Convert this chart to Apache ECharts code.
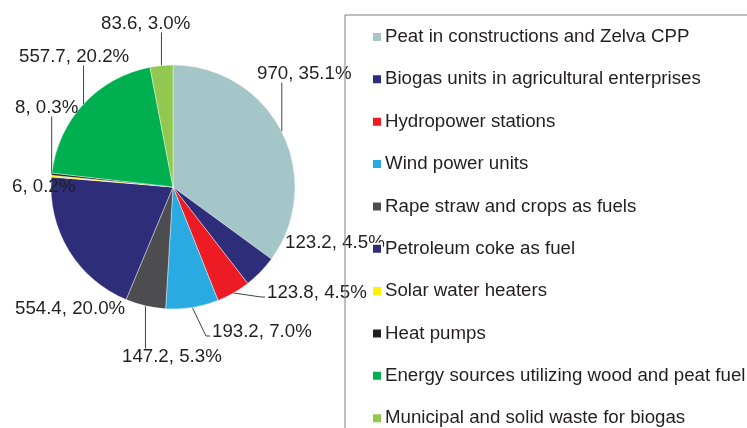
<!DOCTYPE html>
<html>
<head>
<meta charset="utf-8">
<script src="https://cdn.jsdelivr.net/npm/echarts@6/dist/echarts.min.js"></script>
<style>html,body{margin:0;padding:0;background:#fff}#c{width:747px;height:428px}</style>
</head>
<body>
<div id="c"></div>
<script>
var categories = ["Peat in constructions and Zelva CPP","Biogas units in agricultural enterprises","Hydropower stations","Wind power units","Rape straw and crops as fuels","Petroleum coke as fuel","Solar water heaters","Heat pumps","Energy sources utilizing wood and peat fuel","Municipal and solid waste for biogas"];
var values = [970, 123.2, 123.8, 193.2, 147.2, 554.4, 6, 8, 557.7, 83.6];
var colors = ["#A5C6C8","#2E2D7A","#ED1C24","#29ABE2","#4D4D4F","#2E2D7A","#FFF200","#231F20","#00B050","#92C84F"];
// label placement (left edge, vertical middle) and leader style for each slice label
var labelPos = [[257,74],[285,243],[267,293],[212,332],[122,357],[15,309],[12,187],[15,108],[19,57],[101,24]];
var leaderStyle = ['v','none','h','h','v','none','none','v','v','v'];

var total = values.reduce(function(a,b){return a+b;},0);
var data = categories.map(function(n,i){return {name:n, value:values[i], itemStyle:{color:colors[i]}};});
var FONT = 'Liberation Sans, Arial, sans-serif';
var FS = 18.7;

var chart = echarts.init(document.getElementById('c'), null, {renderer:'canvas'});
chart.setOption({
  animation:false,
  textStyle:{fontFamily:FONT},
  legend:{
    orient:'vertical', left:345, top:15, height:480,
    padding:[11.5,20,20,26],
    itemWidth:10, itemHeight:10, itemGap:21.35,
    icon:'rect',
    borderColor:'#808080', borderWidth:1,
    selectedMode:false,
    textStyle:{fontSize:FS, color:'#231F20', lineHeight:21, fontFamily:FONT, padding:[0,0,0,-2]},
    data:categories
  },
  series:[{
    type:'pie',
    center:[173,187],
    radius:[0,122],
    startAngle:90,
    clockwise:true,
    avoidLabelOverlap:false,
    itemStyle:{borderColor:'#ffffff', borderWidth:0.4},
    label:{
      show:true, position:'outside', fontSize:FS, color:'#231F20', fontFamily:FONT,
      formatter:function(p){return p.value + ', ' + (p.value/total*100).toFixed(1) + '%';}
    },
    labelLine:{show:true, length:10, length2:10, lineStyle:{color:'#404040', width:1}},
    labelLayout:function(params){
      var i = params.dataIndex;
      var pos = labelPos[i];
      var w = params.labelRect.width, h = params.labelRect.height;
      var out = {x:pos[0], y:pos[1], align:'left', verticalAlign:'middle', hideOverlap:false};
      var a = params.labelLinePoints ? params.labelLinePoints[0] : null;
      var st = leaderStyle[i];
      if (a) {
        if (st === 'v') {
          var endY = a[1] > pos[1] ? pos[1] + h/2 - 1 : pos[1] - h/2 + 1;
          out.labelLinePoints = [[a[0],a[1]],[a[0],endY],[a[0],endY]];
        } else if (st === 'h') {
          var ex = pos[0] - 2, ey = pos[1] + 4;
          out.labelLinePoints = [[a[0],a[1]],[ex-4,ey],[ex,ey]];
        } else {
          out.labelLinePoints = [[a[0],a[1]],[a[0],a[1]],[a[0],a[1]]];
        }
      }
      return out;
    },
    emphasis:{disabled:true},
    data:data
  }]
});
</script>
</body>
</html>
